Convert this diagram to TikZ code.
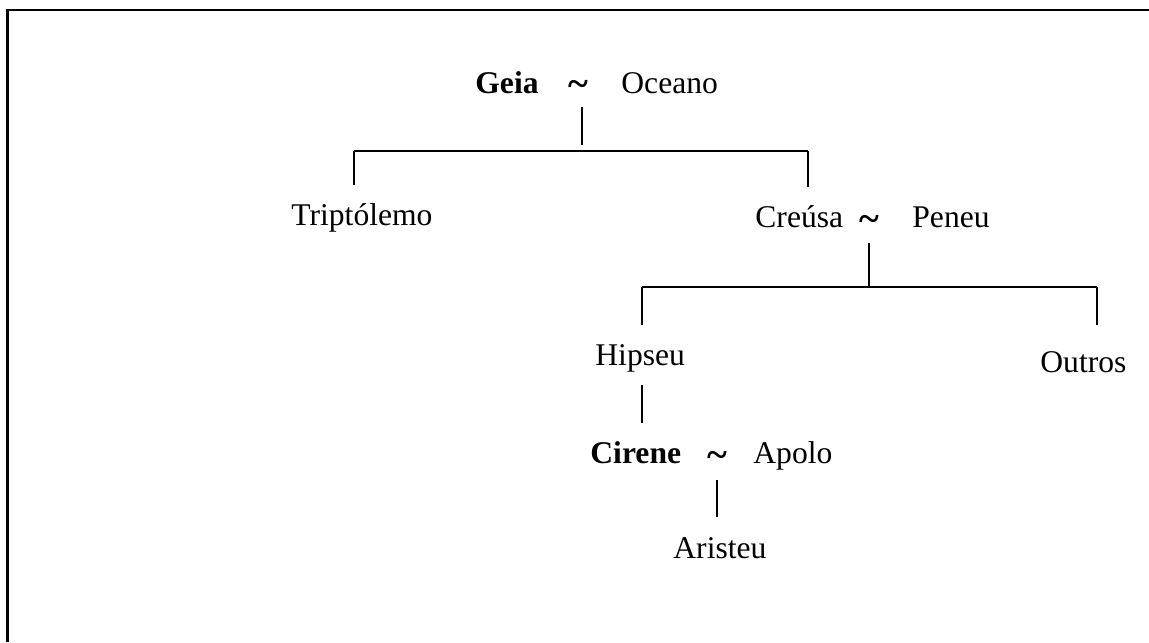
\documentclass[tikz,border=0pt]{standalone}
\usepackage{fontspec}
\setmainfont{Liberation Serif}
\begin{document}
\begin{tikzpicture}[x=0.5pt,y=-0.5pt,
  lbl/.style={anchor=base west, inner sep=0pt, font=\fontsize{15.8}{18}\selectfont},
  tl/.style={anchor=base, inner sep=0pt, font=\fontsize{19}{20}\selectfont\bfseries},
  link/.style={line width=0.8pt},
  frame/.style={line width=1.3pt}]
\useasboundingbox (0,0) rectangle (1149,642);
% frame
\coordinate (fa) at (7.5,642);
\coordinate (fb) at (7.5,10);
\coordinate (fc) at (1149,10);
\draw[frame] (fa) -- (fb) -- (fc);
% generation 1
\node[lbl] (geia) at (475,93) {\textbf{Geia}};
\node[tl] (t1) at (578,97) {\textasciitilde};
\node[lbl] (oceano) at (621,93) {Oceano};
\coordinate (v1a) at (582,107);
\coordinate (v1b) at (582,145);
\coordinate (h1l) at (354,151);
\coordinate (h1r) at (808,151);
\draw[link] (v1a) -- (v1b);
\draw[link] (h1l) -- (h1r);
\coordinate (v2b) at (354,185);
\coordinate (v3b) at (808,187);
\draw[link] (h1l) -- (v2b);
\draw[link] (h1r) -- (v3b);
% generation 2
\node[lbl] (trip) at (291,225) {Triptólemo};
\node[lbl] (creusa) at (755,227) {Creúsa};
\node[tl] (t2) at (869,231) {\textasciitilde};
\node[lbl] (peneu) at (912,227) {Peneu};
\coordinate (v4a) at (869,243);
\coordinate (v4b) at (869,287);
\coordinate (h2l) at (642,287);
\coordinate (h2r) at (1097,287);
\draw[link] (v4a) -- (v4b);
\draw[link] (h2l) -- (h2r);
\coordinate (v5b) at (642,325);
\coordinate (v6b) at (1097,325);
\draw[link] (h2l) -- (v5b);
\draw[link] (h2r) -- (v6b);
% generation 3
\node[lbl] (hipseu) at (595,365) {Hipseu};
\node[lbl] (outros) at (1040,372) {Outros};
\coordinate (v7a) at (642,385);
\coordinate (v7b) at (642,423);
\draw[link] (v7a) -- (v7b);
% generation 4
\node[lbl] (cirene) at (590,463) {\textbf{Cirene}};
\node[tl] (t3) at (717,467) {\textasciitilde};
\node[lbl] (apolo) at (753,463) {Apolo};
\coordinate (v8a) at (717,480);
\coordinate (v8b) at (717,517);
\draw[link] (v8a) -- (v8b);
\node[lbl] (aristeu) at (673,558) {Aristeu};
\end{tikzpicture}
\end{document}
